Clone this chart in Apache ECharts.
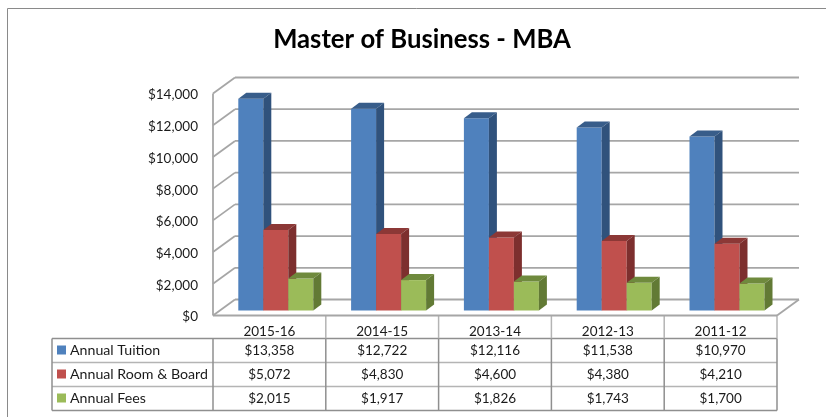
<!DOCTYPE html>
<html>
<head>
<meta charset="utf-8">
<script src="https://cdn.jsdelivr.net/npm/echarts@6/dist/echarts.min.js"></script>
<style>
  html, body { margin: 0; padding: 0; background: #fff; }
  #chart { width: 826px; height: 417px; }
</style>
</head>
<body>
<div id="chart"></div>
<script>
const years = ["2015-16", "2014-15", "2013-14", "2012-13", "2011-12"];
const tuition = [13358, 12722, 12116, 11538, 10970];
const roomBoard = [5072, 4830, 4600, 4380, 4210];
const fees = [2015, 1917, 1826, 1743, 1700];
const yTicks = [0, 2000, 4000, 6000, 8000, 10000, 12000, 14000];

const font = "Lato, 'Open Sans', sans-serif";
const gridBox = { left: 213, top: 93.5, width: 564, height: 222 };
const tableRows = [338.5, 362.5, 386.5, 410.5];
const tableLeft = 52;
const wall = { dx: 22, dy: 16 };
const barDepth = { x0: 7, y0: 5, dx: 8, dy: 6 };
const barWidth = 25;

const money = v => "$" + v.toLocaleString("en-US");

const chart = echarts.init(document.getElementById("chart"), null, { renderer: "canvas" });

// back wall, side wall and floor, all hung off the value axis
function renderWalls(params, api) {
  const box = params.coordSys;
  const y = api.coord([0, api.value(0)])[1];
  const style = { stroke: "#a6a6a6", lineWidth: 1.8, fill: null };
  const right = box.x + box.width;
  const children = [
    { type: "line", shape: { x1: box.x, y1: y, x2: box.x + wall.dx, y2: y - wall.dy }, style },
    { type: "line", shape: { x1: box.x + wall.dx, y1: y - wall.dy, x2: right + wall.dx, y2: y - wall.dy }, style }
  ];
  if (api.value(0) === 0) {
    children.push({ type: "line", shape: { x1: right, y1: y, x2: right + wall.dx, y2: y - wall.dy }, style });
    children.push({ type: "line", shape: { x1: box.x, y1: y, x2: right, y2: y }, style });
    children.push({ type: "line", shape: { x1: box.x, y1: y, x2: box.x, y2: box.y }, style });
  }
  return { type: "group", children };
}

function barRenderer(slot, colors) {
  return function (params, api) {
    const idx = api.value(0);
    const center = api.coord([idx, 0])[0];
    const base = api.coord([idx, 0])[1] - barDepth.y0;
    const top = api.coord([idx, api.value(1)])[1] - barDepth.y0;
    const x = center + barDepth.x0 - barWidth * 1.5 + slot * barWidth - 0.6;
    const d = barDepth;
    return {
      type: "group",
      children: [
        { type: "rect", shape: { x, y: top, width: barWidth, height: base - top }, style: { fill: colors.front } },
        { type: "polygon", shape: { points: [[x, top], [x + d.dx, top - d.dy], [x + barWidth + d.dx, top - d.dy], [x + barWidth, top]] }, style: { fill: colors.top } },
        { type: "polygon", shape: { points: [[x + barWidth, top], [x + barWidth + d.dx, top - d.dy], [x + barWidth + d.dx, base - d.dy], [x + barWidth, base]] }, style: { fill: colors.side } }
      ]
    };
  };
}

// data table under the plot
function tableGraphics() {
  const out = [];
  const bandW = gridBox.width / years.length;
  const right = gridBox.left + gridBox.width;
  const rowsData = [tuition, roomBoard, fees];
  const inner = { stroke: "#b4b4b4", lineWidth: 1.5 };
  const outer = { stroke: "#8f8f8f", lineWidth: 1.5 };
  const hLine = (x1, x2, y, style) => out.push({ type: "line", shape: { x1, y1: y, x2, y2: y }, style, silent: true });
  const vLine = (x, y1, y2, style) => out.push({ type: "line", shape: { x1: x, y1, x2: x, y2 }, style, silent: true });

  hLine(tableLeft, right, tableRows[0], outer);
  hLine(tableLeft, right, tableRows[1], inner);
  hLine(tableLeft, right, tableRows[2], inner);
  hLine(tableLeft, right, tableRows[3], outer);
  vLine(tableLeft, tableRows[0], tableRows[3], outer);
  vLine(gridBox.left, tableRows[0], tableRows[3], outer);
  for (let i = 1; i < years.length; i++) {
    const x = gridBox.left + i * bandW;
    vLine(x, gridBox.top + gridBox.height, tableRows[0], inner);
    vLine(x, tableRows[0], tableRows[3], outer);
  }
  vLine(right, gridBox.top + gridBox.height, tableRows[0], inner);
  vLine(right, tableRows[0], tableRows[3], outer);

  rowsData.forEach((row, r) => {
    row.forEach((v, c) => {
      out.push({
        type: "text",
        silent: true,
        x: gridBox.left + (c + 0.5) * bandW,
        y: (tableRows[r] + tableRows[r + 1]) / 2,
        style: { text: money(v), font: "13.5px " + font, fill: "#1a1a1a", textAlign: "center", textVerticalAlign: "middle" }
      });
    });
  });
  // chart frame, open at right and bottom as in the cropped screenshot
  out.push({ type: "polyline", silent: true, shape: { points: [[7.5, 417], [7.5, 8.5], [826, 8.5]] }, style: { stroke: "#8a8a8a", lineWidth: 1, fill: null } });
  return out;
}

const seriesColors = [
  { front: "#4f81bd", top: "#385d8a", side: "#30527c" },
  { front: "#c0504d", top: "#8c3836", side: "#7d2f2e" },
  { front: "#9bbb59", top: "#6f8a3d", side: "#627a35" }
];

const toData = arr => arr.map((v, i) => [i, v]);

chart.setOption({
  animation: false,
  backgroundColor: "#fff",
  title: {
    text: "Master of Business - MBA",
    left: 417,
    top: 22,
    textAlign: "center",
    textStyle: { fontFamily: font, fontWeight: "bold", fontSize: 25.7, color: "#000" }
  },
  legend: {
    orient: "vertical",
    left: 57,
    top: 343,
    padding: 0,
    itemWidth: 9,
    itemHeight: 9,
    itemGap: 10,
    icon: "rect",
    selectedMode: false,
    textStyle: { fontFamily: font, fontSize: 14.2, color: "#1a1a1a", padding: [0, 0, 0, -1] },
    data: ["Annual Tuition", "Annual Room & Board", "Annual Fees"]
  },
  grid: gridBox,
  xAxis: {
    type: "category",
    data: years,
    axisLine: { show: false },
    axisTick: { show: false },
    axisLabel: { color: "#1a1a1a", fontFamily: font, fontSize: 13.5, margin: 9 }
  },
  yAxis: {
    type: "value",
    min: 0,
    max: 14000,
    interval: 2000,
    axisLine: { show: false },
    axisTick: { show: false },
    splitLine: { show: false },
    axisLabel: { color: "#1a1a1a", fontFamily: font, fontSize: 13.5, margin: 15, lineHeight: 17, verticalAlign: "top", padding: [-7, 0, 0, 0], formatter: money }
  },
  series: [
    { type: "custom", name: "walls", silent: true, data: yTicks.map(v => [v]), encode: { y: 0 }, renderItem: renderWalls, z: 1 },
    { type: "custom", name: "Annual Tuition", data: toData(tuition), itemStyle: { color: seriesColors[0].front }, renderItem: barRenderer(0, seriesColors[0]), encode: { x: 0, y: 1 }, z: 2 },
    { type: "custom", name: "Annual Room & Board", data: toData(roomBoard), itemStyle: { color: seriesColors[1].front }, renderItem: barRenderer(1, seriesColors[1]), encode: { x: 0, y: 1 }, z: 3 },
    { type: "custom", name: "Annual Fees", data: toData(fees), itemStyle: { color: seriesColors[2].front }, renderItem: barRenderer(2, seriesColors[2]), encode: { x: 0, y: 1 }, z: 4 }
  ],
  graphic: tableGraphics()
});
</script>
</body>
</html>
